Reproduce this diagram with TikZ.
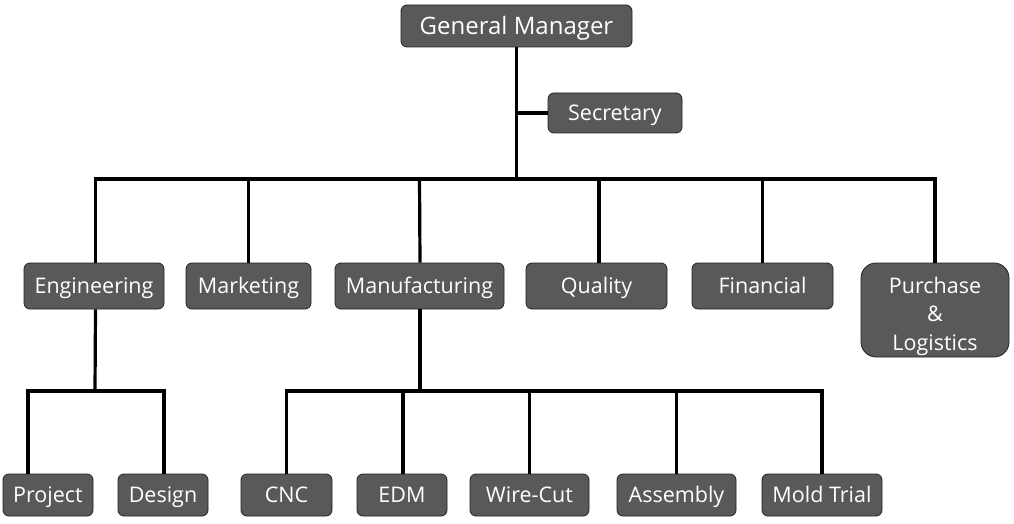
\documentclass[tikz,border=0pt]{standalone}
\usepackage{fontspec}
\setmainfont{Open Sans}
\definecolor{boxgray}{HTML}{595959}
\definecolor{boxedge}{HTML}{222222}
\begin{document}
\begin{tikzpicture}[x=1pt,y=-1pt,
  boxbase/.style={draw=boxedge, line width=0.8pt, fill=boxgray, rounded corners=6pt,
    text=white, font=\fontsize{21.5}{28.5}\selectfont, inner sep=0pt,
    text height=15pt, text depth=0pt},
  box/.style={boxbase, align=center},
  link/.style={line width=3.2pt, draw=black}]
\useasboundingbox[fill=white] (0,0) rectangle (1014,524);
\coordinate (bus) at (516,179);
\coordinate (engbus) at (95,391);
\coordinate (manbus) at (420,391);
% nodes
\node[box, minimum width=231, minimum height=42, font=\fontsize{24}{28}\selectfont, text height=17pt, text depth=-9pt] (gm) at (516.5,26) {General Manager};
\node[box, minimum width=134, minimum height=40] (sec) at (615,113) {Secretary};
\node[box, minimum width=140, minimum height=46] (eng) at (94,286) {Engineering};
\node[box, minimum width=125, minimum height=46] (mkt) at (248.5,286) {Marketing};
\node[box, minimum width=169, minimum height=46] (man) at (419.5,286) {Manufacturing};
\node[box, minimum width=141, minimum height=46] (qual) at (596.5,286) {Quality};
\node[box, minimum width=141, minimum height=46] (fin) at (762.5,286) {Financial};
\node[boxbase, minimum width=148, minimum height=94, rounded corners=15pt, text height=15pt, text depth=49pt] (pl) at (935,310) {\begin{tabular}[t]{@{}c@{}}Purchase\\\&\\Logistics\end{tabular}};
\node[box, minimum width=90, minimum height=42] (proj) at (48,495) {Project};
\node[box, minimum width=90, minimum height=42] (des) at (163,495) {Design};
\node[box, minimum width=91, minimum height=42] (cnc) at (286.5,495) {CNC};
\node[box, minimum width=90, minimum height=42] (edm) at (402,495) {EDM};
\node[box, minimum width=119, minimum height=42] (wc) at (529.5,495) {Wire-Cut};
\node[box, minimum width=119, minimum height=42] (asm) at (676.5,495) {Assembly};
\node[box, minimum width=120, minimum height=42] (mt) at (822,495) {Mold Trial};
% connectors
\draw[link] (gm.south) -- (gm.south |- bus);
\draw[link] (gm.south |- sec.west) -- (sec.west);
\draw[link] ([xshift=1.5pt]eng.north) |- (bus) -| (pl.north);
\draw[link] (mkt.north) -- (mkt.north |- bus);
\draw[link] ([xshift=0.5pt]man.north) -- (man.north |- bus);
\draw[link] ([xshift=2.5pt]qual.north) -- ([xshift=2.5pt]qual.north |- bus);
\draw[link] (fin.north) -- (fin.north |- bus);
% engineering subtree
\draw[link] ([xshift=1.5pt]eng.south) -- (engbus);
\draw[link] ([xshift=-20pt]proj.north) |- (engbus) -| ([xshift=1pt]des.north);
% manufacturing subtree
\draw[link] ([xshift=0.5pt]man.south) -- (manbus);
\draw[link] (cnc.north) |- (manbus) -| (mt.north);
\draw[link] ([xshift=1pt]edm.north) -- ([xshift=1pt]edm.north |- manbus);
\draw[link] (wc.north) -- (wc.north |- manbus);
\draw[link] (asm.north) -- (asm.north |- manbus);
\end{tikzpicture}
\end{document}
